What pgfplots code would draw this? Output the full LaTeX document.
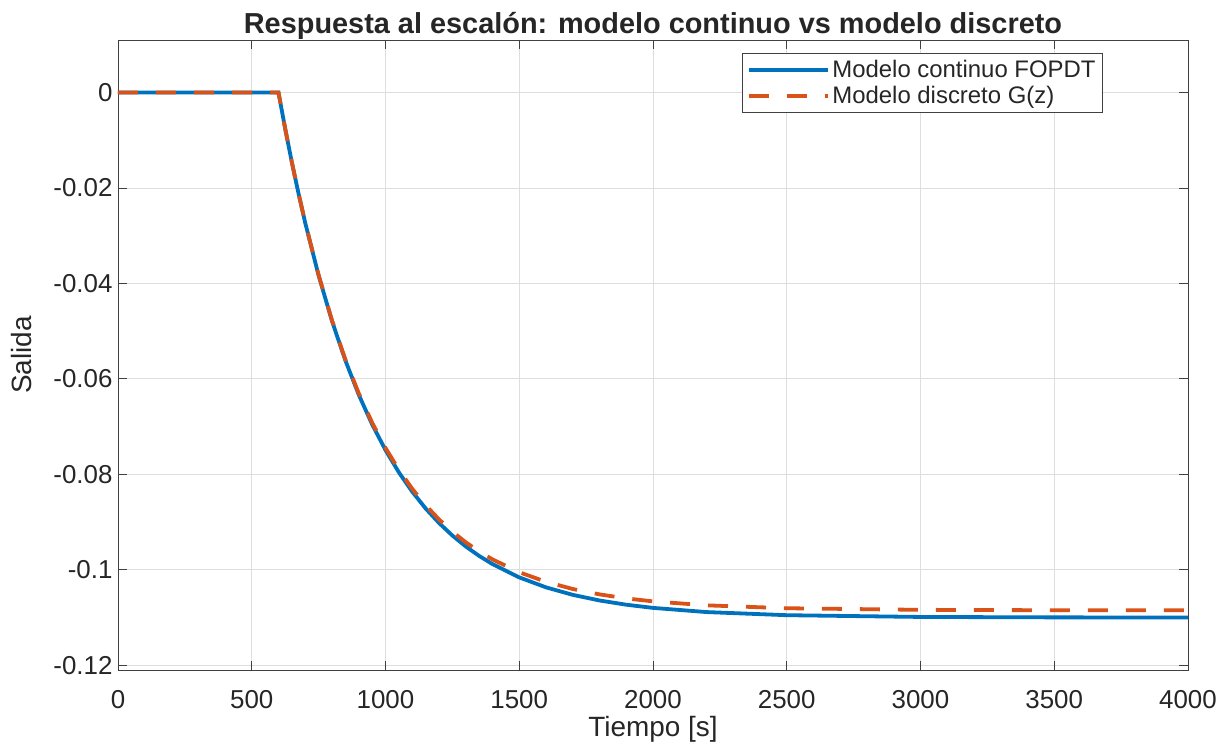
\documentclass[border=0pt]{standalone}
\usepackage{pgfplots}
\pgfplotsset{compat=1.18}
\usepackage{fontspec}
\setmainfont{Liberation Sans}
\definecolor{mblue}{rgb}{0,0.447,0.741}
\definecolor{morange}{rgb}{0.85,0.325,0.098}
\definecolor{txt}{gray}{0.15}
\begin{document}
\begin{tikzpicture}
\begin{axis}[
  scale only axis,
  width=1070bp, height=630bp,
  xmin=0, xmax=4000, ymin=-0.121, ymax=0.011,
  xtick={0,500,...,4000},
  ytick={-0.12,-0.1,-0.08,-0.06,-0.04,-0.02,0},
  yticklabels={-0.12,-0.1,-0.08,-0.06,-0.04,-0.02,0},
  scaled y ticks=false,
  /pgf/number format/assume math mode=true,
  /pgf/number format/1000 sep={},
  tick label style={font=\fontsize{26}{30}\selectfont, text=txt},
  xticklabel style={yshift=-17bp},
  yticklabel style={xshift=-2bp},
  tick align=inside,
  major tick length=9bp,
  tick style={black!75, line width=0.9bp},
  axis line style={black!75, line width=0.9bp},
  grid=major,
  major grid style={black!13, line width=0.9bp},
  xlabel={Tiempo [s]},
  ylabel={Salida},
  label style={font=\fontsize{28}{32}\selectfont, text=txt},
  xlabel style={yshift=-1bp},
  ylabel style={yshift=15bp},
  title={\textbf{Respuesta al escalón: modelo continuo vs modelo discreto}},
  title style={font=\fontsize{29}{33}\selectfont, text=txt, yshift=-9bp},
  legend style={at={(rel axis cs:0.9206,0.979)}, anchor=north east,
    font=\fontsize{24}{28}\selectfont, text=txt, draw=black!75, line width=0.9bp,
    inner xsep=4bp, inner ysep=5bp, row sep=3bp,
    nodes={inner xsep=3bp}},
  legend cell align=left,
  legend image code/.code={\draw[#1, line width=3.8bp] (0bp,0bp) -- (79bp,0bp);},
]
\addplot[mblue, line width=3.8bp] coordinates {
(0,0) (600,0) (625,-0.007591) (650,-0.014643) (675,-0.021195) (700,-0.027337)
(750,-0.038342) (800,-0.047881)
(850,-0.056151) (900,-0.063319) (950,-0.069533) (1000,-0.074921) (1050,-0.079591)
(1100,-0.083639) (1150,-0.087148) (1200,-0.090190) (1250,-0.092826) (1300,-0.095113)
(1350,-0.097094) (1400,-0.098813)
(1500,-0.101594) (1600,-0.103683) (1700,-0.105252) (1800,-0.106433) (1900,-0.107321) (2000,-0.107985)
(2200,-0.108862) (2500,-0.109517) (3000,-0.109884) (3500,-0.109975) (4000,-0.109993)
};
\addlegendentry{Modelo continuo FOPDT}
\addplot[morange, line width=3.8bp, dash pattern=on 20bp off 18bp] coordinates {
(0,0) (600,0) (625,-0.007548) (650,-0.014639) (675,-0.021160) (700,-0.027301)
(750,-0.038256) (800,-0.047733)
(850,-0.055932) (900,-0.063024) (950,-0.069160) (1000,-0.074468) (1050,-0.079060)
(1100,-0.083032) (1150,-0.086468) (1200,-0.089441) (1250,-0.092013) (1300,-0.094237)
(1350,-0.096163) (1400,-0.097826)
(1500,-0.100512) (1600,-0.102522) (1700,-0.104026) (1800,-0.105152) (1900,-0.105995) (2000,-0.106625)
(2200,-0.107450) (2500,-0.108060) (3000,-0.108397) (3500,-0.108480) (4000,-0.108497)
};
\addlegendentry{Modelo discreto G(z)}
\end{axis}
\path[use as bounding box] (-118bp,-79bp) rectangle (1109bp,670bp);
\end{tikzpicture}
\end{document}
